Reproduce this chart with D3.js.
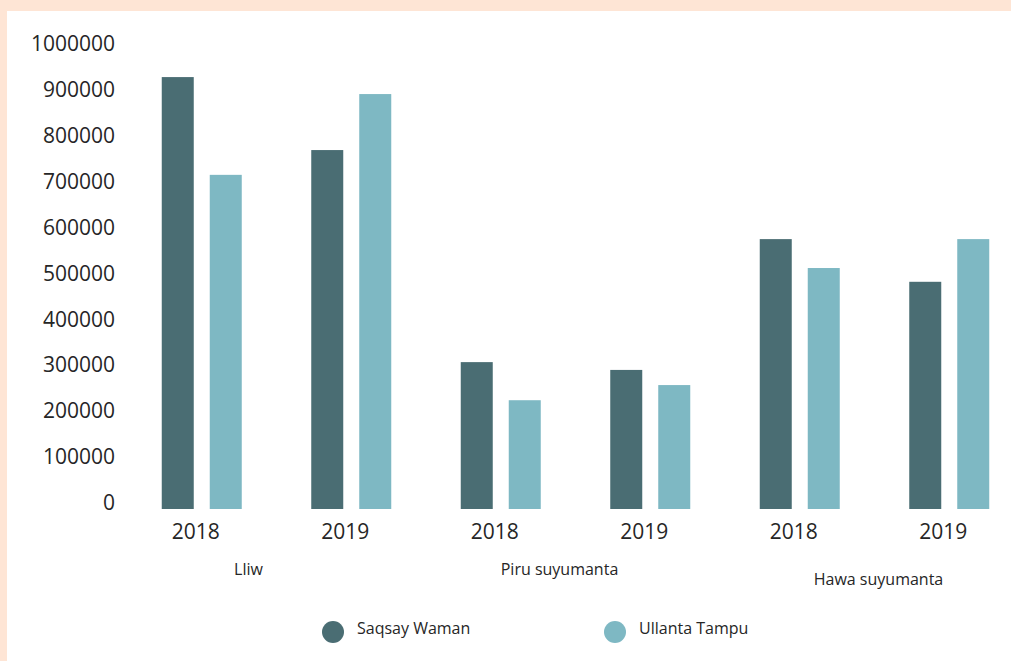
<!DOCTYPE html>
<html>
<head>
<meta charset="utf-8">
<script src="https://cdn.jsdelivr.net/npm/d3@7"></script>
<style>
  html, body { margin: 0; padding: 0; background: #fee5d5; }
  svg { display: block; font-family: 'Open Sans', sans-serif; }
</style>
</head>
<body>
<svg id="chart"></svg>
<script>
// data
const groups = ['Lliw', 'Piru suyumanta', 'Hawa suyumanta'];
const years = ['2018', '2019'];
const seriesNames = ['Saqsay Waman', 'Ullanta Tampu'];
const saqsayWaman = [941000, 782000, 320000, 303000, 588000, 495000];
const ullantaTampu = [728000, 904000, 237000, 270000, 525000, 588000];
const yTicks = [0, 100000, 200000, 300000, 400000, 500000, 600000, 700000, 800000, 900000, 1000000];

const colors = ['#4a6d73', '#7eb8c3'];

const width = 1011, height = 661;
const svg = d3.select('#chart').attr('width', width).attr('height', height);

// white panel on the peach background
svg.append('rect')
  .attr('x', 7).attr('y', 11)
  .attr('width', width - 7).attr('height', height - 11)
  .attr('fill', '#ffffff');

// one slot per group/year pair
const slots = [];
groups.forEach((g, gi) => years.forEach((yr, yi) => {
  const i = gi * years.length + yi;
  slots.push({ key: g + '-' + yr, group: g, year: yr, values: [saqsayWaman[i], ullantaTampu[i]] });
}));

const x = d3.scaleBand()
  .domain(slots.map(d => d.key))
  .range([127, 1024]);

const xInner = d3.scaleBand()
  .domain(seriesNames)
  .range([-40, 40])
  .paddingInner(1 / 3);

const y = d3.scaleLinear()
  .domain([0, 1000000])
  .range([509, 50]);

// y axis labels only
const yAxis = d3.axisLeft(y).tickValues(yTicks).tickSize(0).tickPadding(0).tickFormat(d3.format('d'));
const yAxisG = svg.append('g')
  .attr('transform', 'translate(115,0)')
  .call(yAxis);
yAxisG.select('.domain').remove();
yAxisG.selectAll('text')
  .attr('dy', '0')
  .attr('y', -5)
  .attr('dominant-baseline', 'middle')
  .attr('fill', '#262626')
  .style('font-family', "'Open Sans', sans-serif")
  .style('font-size', '21px');

// bars
const slotG = svg.append('g').selectAll('g')
  .data(slots)
  .join('g')
  .attr('transform', d => `translate(${x(d.key) + x.bandwidth() / 2},0)`);

slotG.selectAll('rect')
  .data(d => d.values.map((v, i) => ({ name: seriesNames[i], value: v, i })))
  .join('rect')
  .attr('x', d => xInner(d.name))
  .attr('width', xInner.bandwidth())
  .attr('y', d => y(d.value))
  .attr('height', d => y(0) - y(d.value))
  .attr('fill', d => colors[d.i]);

// year labels
slotG.append('text')
  .attr('x', -6)
  .attr('y', 533)
  .attr('text-anchor', 'middle')
  .attr('dominant-baseline', 'middle')
  .attr('fill', '#262626')
  .style('font-size', '21px')
  .text(d => d.year);

// group labels
const groupDx = [-28, -16, 4];
const groupY = [571, 571, 581];
svg.append('g').selectAll('text')
  .data(groups)
  .join('text')
  .attr('x', (d, i) => (x(d + '-2018') + x(d + '-2019') + x.bandwidth()) / 2 + groupDx[i])
  .attr('y', (d, i) => groupY[i])
  .attr('text-anchor', 'middle')
  .attr('dominant-baseline', 'middle')
  .attr('fill', '#262626')
  .style('font-size', '16px')
  .text(d => d);

// legend
const legendX = [333, 615];
const legend = svg.append('g').selectAll('g')
  .data(seriesNames)
  .join('g')
  .attr('transform', (d, i) => `translate(${legendX[i]},632)`);
legend.append('circle')
  .attr('r', 11)
  .attr('fill', (d, i) => colors[i]);
legend.append('text')
  .attr('x', 24)
  .attr('y', -2)
  .attr('dominant-baseline', 'middle')
  .attr('fill', '#262626')
  .style('font-size', '16px')
  .text(d => d);
</script>
</body>
</html>
